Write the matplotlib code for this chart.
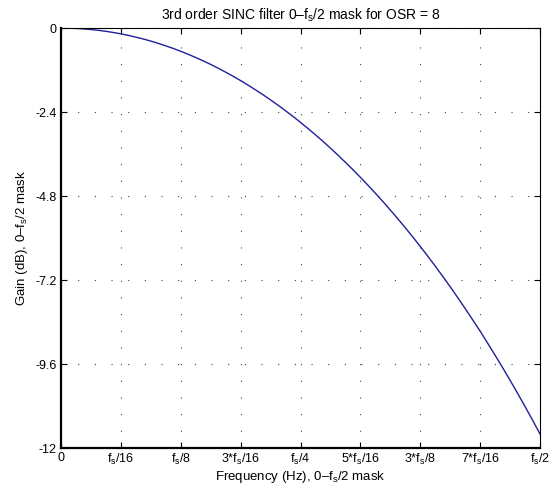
import matplotlib
matplotlib.use("Agg")
import matplotlib.pyplot as plt

plt.rcParams['font.family'] = ['Liberation Sans', 'DejaVu Sans']
plt.rcParams['mathtext.fontset'] = 'custom'
plt.rcParams['mathtext.rm'] = 'Liberation Sans'
plt.rcParams['mathtext.it'] = 'Liberation Sans'
plt.rcParams['mathtext.default'] = 'regular'
plt.rcParams['axes.unicode_minus'] = False

# gain in dB, every fs/128 from 0 to fs/2
gain = [0.0, -0.003, -0.010, -0.023, -0.041, -0.064, -0.093, -0.126,
        -0.165, -0.209, -0.259, -0.312, -0.372, -0.437, -0.508, -0.582,
        -0.663, -0.749, -0.841, -0.937, -1.039, -1.146, -1.260, -1.377,
        -1.501, -1.631, -1.767, -1.906, -2.053, -2.204, -2.363, -2.525,
        -2.694, -2.870, -3.051, -3.237, -3.430, -3.630, -3.836, -4.046,
        -4.264, -4.488, -4.719, -4.955, -5.199, -5.449, -5.706, -5.969,
        -6.240, -6.517, -6.802, -7.094, -7.393, -7.700, -8.014, -8.336,
        -8.661, -9.003, -9.349, -9.702, -10.064, -10.435, -10.815, -11.202,
        -11.600]
# frequency as a fraction of fs
freq_step = 1 / 128
freq = [i * freq_step for i in range(len(gain))]

xticks = [0, 1/16, 1/8, 3/16, 1/4, 5/16, 3/8, 7/16, 1/2]
xlabels = ['0', 'f$_s$/16', 'f$_s$/8', '3*f$_s$/16', 'f$_s$/4',
           '5*f$_s$/16', '3*f$_s$/8', '7*f$_s$/16', 'f$_s$/2']
yticks = [0, -2.4, -4.8, -7.2, -9.6, -12]
ylabels = ['0', '-2.4', '-4.8', '-7.2', '-9.6', '-12']

fig = plt.figure(figsize=(5.57, 4.9), dpi=100)
ax = fig.add_axes([0.1095, 0.0857, 0.86, 0.857])

ax.plot(freq, gain, color='#1f1f9a', lw=1.0)

ax.set_xlim(0, 0.5)
ax.set_ylim(-12, 0)
ax.set_xticks(xticks)
ax.set_xticklabels(xlabels)
ax.set_yticks(yticks)
ax.set_yticklabels(ylabels)
ax.tick_params(direction='in', top=True, right=True, labelsize=9,
               length=4, width=0.8, pad=3)
ax.grid(True, linestyle=(0, (1, 14)), color='#444444', lw=0.8)

for s in ['left', 'bottom']:
    ax.spines[s].set_linewidth(1.6)
for s in ['top', 'right']:
    ax.spines[s].set_linewidth(0.8)

ax.set_title('3rd order SINC filter 0\u2013f$_s$/2 mask for OSR = 8',
             fontsize=10, pad=6)
ax.set_xlabel('Frequency (Hz), 0\u2013f$_s$/2 mask', fontsize=9.5, labelpad=1)
ax.set_ylabel('Gain (dB), 0\u2013f$_s$/2 mask', fontsize=9.5, labelpad=4)

fig.savefig('out.png', dpi=100)
